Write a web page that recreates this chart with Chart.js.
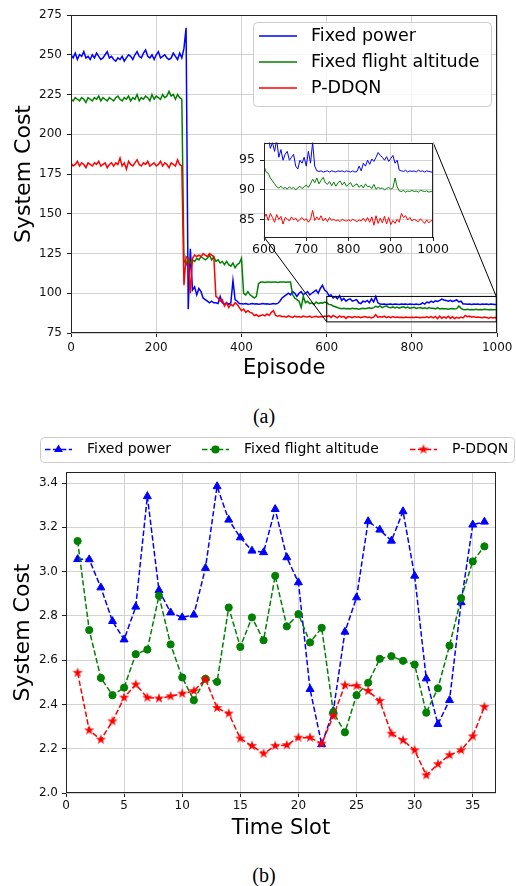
<!DOCTYPE html>
<html>
<head>
<meta charset="utf-8">
<script src="https://cdn.jsdelivr.net/npm/chart.js@4.4.0/dist/chart.umd.min.js"></script>
<style>
  body { margin: 0; background: #fff; width: 516px; height: 886px; position: relative; overflow: hidden; }
  .wrap { position: absolute; }
  #wrapA { left: 0; top: 0; width: 516px; height: 390px; }
  #wrapInset { left: 230px; top: 130px; width: 220px; height: 135px; }
  #wrapB { left: 0; top: 430px; width: 516px; height: 430px; }
  .cap { position: absolute; width: 100px; text-align: center; font-family: "Liberation Serif", serif; font-size: 20px; line-height: 22px; color: #000; }
</style>
</head>
<body>
<div class="wrap" id="wrapA"><canvas id="mainA" width="516" height="390"></canvas></div>
<div class="wrap" id="wrapInset"><canvas id="inset" width="220" height="135"></canvas></div>
<div class="cap" style="left:214px;top:405px">(a)</div>
<div class="wrap" id="wrapB"><canvas id="mainB" width="516" height="430"></canvas></div>
<div class="cap" style="left:214px;top:864px">(b)</div>

<script>
// ---- data: (a) convergence, sampled every 5 episodes (0..1000) ----
const episodes = Array.from({ length: 201 }, (_, i) => i * 5);
const seriesNames = ['Fixed power', 'Fixed flight altitude', 'P-DDQN'];

const fixedPowerA = [
  250, 248, 251, 247, 250, 249, 252, 248, 249, 247, 250, 248, 251, 249, 247, 248, 250, 252, 248, 249,
  247, 246, 248, 247, 249, 246, 248, 250, 249, 247, 250, 252, 249, 248, 251, 253, 249, 248, 250, 247,
  250, 252, 248, 249, 250, 248, 247, 248, 251, 249, 247, 251, 248, 254, 267, 90, 128, 102, 104, 99,
  103, 101, 97, 96, 95, 94, 95, 94, 94, 93.5, 98, 94, 93, 94, 93, 94, 108, 96, 95, 93.5,
  93.4, 93.2, 93.5, 93.1, 93.3, 93.6, 93.2, 93.4, 93.1, 93.3, 93.5, 93.2, 93.4, 93.1, 93.3, 93.5, 93.2, 93.6, 95, 97,
  98, 99, 100, 99, 101, 100, 98, 100, 101, 99, 100, 101, 99, 100, 101, 102, 100, 103, 105, 102,
  101, 98.5, 99, 97, 98, 96.5, 98.5, 95.5, 96.8, 95, 96, 96.5, 95, 95.5, 96, 94, 93.5, 95, 94.5, 95.5,
  94, 96.5, 94.5, 98, 94, 93.2, 93.1, 93.2, 93, 93.1, 93.2, 93, 93.2, 93.1, 93, 93.2, 93.1, 93.2, 93, 93.2,
  93.1, 93, 93.2, 93, 93.1, 94, 93.2, 94.5, 94, 95, 94.3, 95.2, 94.8, 95.5, 96.3, 95.8, 95.5, 95, 95.6, 94.8,
  95.3, 95.8, 94.5, 95, 93.3, 93.2, 93.1, 93.3, 93, 93.2, 93.1, 93.2, 93, 93.3, 93.1, 93.2, 93, 93.2, 93.1, 93,
  93
];
const fixedAltA = [
  222, 221, 223, 222, 221, 223, 222, 220, 223, 222, 221, 223, 222, 224, 221, 223, 222, 221, 223, 222,
  221, 223, 224, 222, 221, 223, 222, 224, 221, 223, 222, 225, 221, 223, 222, 224, 223, 221, 225, 222,
  224, 223, 222, 225, 223, 224, 227, 224, 225, 222, 225, 223, 222, 121, 118, 122, 119, 121, 120, 122,
  121, 123, 122, 121, 122, 124, 121, 123, 120, 121, 119, 120, 118, 120, 118, 117, 119, 116, 118, 119,
  122, 100, 99, 101, 99, 98, 97, 98, 106, 107, 107, 106.8, 107, 107, 106.9, 107, 107, 106.8, 107, 107,
  107, 106.9, 107, 107, 99, 97, 96, 95, 91, 98, 94, 95, 93.5, 94, 93, 94.5, 93.5, 94, 93.8, 94.5,
  94, 93, 92.8, 92, 91.5, 91, 90.5, 90.3, 90.6, 90.2, 90.4, 90.1, 90.5, 90.2, 90.4, 90, 90.3, 90.6, 90.2, 90.5,
  90.8, 90.4, 91, 91.8, 91.2, 92, 91, 91.6, 92.1, 91.2, 90.9, 91.4, 90.7, 91.3, 90.6, 91.2, 91.5, 90.8, 91.3, 90.6,
  90.9, 91.2, 90.5, 90.8, 91, 90.4, 90.8, 90.3, 91, 90.5, 90.6, 90.2, 90.9, 90.1, 90.4, 90.2, 90.3, 90, 90.2, 90.4,
  90.1, 90.3, 92, 90.5, 89.8, 89.7, 89.9, 89.6, 89.8, 89.7, 89.9, 89.7, 89.8, 89.6, 89.9, 89.8, 89.7, 89.8, 89.6, 89.7,
  89.8
];
const pddqnA = [
  182, 180, 181, 183, 180, 182, 181, 179, 182, 181, 180, 182, 181, 183, 180, 181, 182, 179, 181, 182,
  180, 182, 181, 185, 180, 182, 178, 183, 181, 180, 182, 184, 181, 180, 182, 181, 183, 180, 181, 182,
  180, 181, 183, 180, 182, 181, 179, 182, 181, 180, 184, 181, 180, 105, 123, 122, 100, 122, 124, 123,
  124, 123, 125, 124, 123, 125, 124, 123, 98, 97, 95, 96, 92, 94, 91, 93, 92, 94, 93, 91,
  89, 90, 88, 89, 88, 87.5, 86, 86.5, 85.5, 86, 86.5, 85.8, 87, 86, 88, 89, 86, 85.5, 86, 85.3,
  85.5, 85, 85.8, 85.2, 84.8, 85.6, 85.1, 85.4, 84.9, 85.7, 85.2, 85, 85.6, 84.8, 85.3, 85.5, 84.9, 85.4, 85.1, 85.6,
  85.2, 85.9, 84.8, 86, 85.3, 84.5, 85.8, 85, 85.5, 84.2, 85.3, 85.1, 84.7, 85.4, 84.9, 85.2, 84.6, 85, 85.3, 84.8,
  85.1, 84.5, 85, 86.5, 84.8, 85.4, 84.9, 85.6, 84.7, 85.2, 84.6, 85.3, 84.8, 85, 84.7, 84.9, 84.6, 85, 84.8, 84.7,
  84.9, 84.7, 85, 84.8, 84.6, 84.9, 84.7, 85.2, 84.6, 85.3, 84.5, 85.4, 84, 85.6, 84.3, 85.2, 84.4, 85.5, 84.2, 85.3,
  84.1, 84.8, 84.3, 85, 84.5, 86, 85.3, 85.6, 84.9, 85.3, 84.7, 85, 84.8, 84.6, 85.1, 84.7, 84.3, 84.9, 84.4, 84.8,
  84.6
];
const mainXTicks = [0, 200, 400, 600, 800, 1000];
const mainYTicks = [75, 100, 125, 150, 175, 200, 225, 250, 275];
const insetXTicks = [600, 700, 800, 900, 1000];
const insetYTicks = [85, 90, 95];

// ---- data: (b) per time slot ----
const timeSlots = [1, 2, 3, 4, 5, 6, 7, 8, 9, 10, 11, 12, 13, 14, 15, 16, 17, 18,
  19, 20, 21, 22, 23, 24, 25, 26, 27, 28, 29, 30, 31, 32, 33, 34, 35, 36];
const fixedPowerB = [3.056, 3.055, 2.928, 2.776, 2.693, 2.841, 3.34, 2.916, 2.815, 2.793, 2.805, 3.016,
  3.385, 3.234, 3.154, 3.094, 3.087, 3.282, 3.064, 2.951, 2.469, 2.22, 2.37, 2.728,
  2.883, 3.227, 3.189, 3.139, 3.272, 2.981, 2.517, 2.311, 2.419, 2.861, 3.212, 3.225];
const fixedAltB = [3.138, 2.736, 2.52, 2.442, 2.476, 2.627, 2.648, 2.891, 2.671, 2.522, 2.419, 2.516,
  2.502, 2.838, 2.66, 2.793, 2.69, 2.981, 2.753, 2.808, 2.68, 2.746, 2.365, 2.274,
  2.442, 2.498, 2.606, 2.618, 2.597, 2.58, 2.363, 2.473, 2.666, 2.88, 3.046, 3.114];
const pddqnB = [2.543, 2.283, 2.241, 2.324, 2.431, 2.49, 2.431, 2.427, 2.437, 2.449, 2.461, 2.514,
  2.384, 2.359, 2.246, 2.213, 2.178, 2.213, 2.216, 2.25, 2.25, 2.223, 2.347, 2.487,
  2.484, 2.461, 2.416, 2.268, 2.238, 2.193, 2.08, 2.13, 2.171, 2.193, 2.256, 2.389];
const slotXTicks = [0, 5, 10, 15, 20, 25, 30, 35];
const costYTicks = [2.0, 2.2, 2.4, 2.6, 2.8, 3.0, 3.2, 3.4];

const COLORS = ['#0000ff', '#008000', '#ff0000'];
const GRID = '#c8c8c8';
const INK = '#222222';

Chart.defaults.font.family = "'DejaVu Sans', sans-serif";
Chart.defaults.color = '#000';

// filled five-point star, like matplotlib's '*'
function makeStar(color) {
  const c = document.createElement('canvas');
  c.width = 12; c.height = 12;
  const g = c.getContext('2d');
  g.fillStyle = color;
  g.beginPath();
  for (let k = 0; k < 10; k++) {
    const r = k % 2 ? 2.1 : 5.4;
    const a = -Math.PI / 2 + k * Math.PI / 5;
    g.lineTo(6 + r * Math.cos(a), 6 + r * Math.sin(a));
  }
  g.closePath();
  g.fill();
  return c;
}
const starRed = makeStar(COLORS[2]);

function roundedRect(ctx, x, y, w, h, r) {
  ctx.beginPath();
  ctx.moveTo(x + r, y);
  ctx.arcTo(x + w, y, x + w, y + h, r);
  ctx.arcTo(x + w, y + h, x, y + h, r);
  ctx.arcTo(x, y + h, x, y, r);
  ctx.arcTo(x, y, x + w, y, r);
  ctx.closePath();
}

function drawMarker(ctx, ds, x, y) {
  const st = ds.pointStyle;
  const r = ds.pointRadius;
  ctx.fillStyle = ds.pointBackgroundColor;
  if (st === 'triangle') {
    ctx.beginPath();
    for (let k = 0; k < 3; k++) {
      const a = k * 2 * Math.PI / 3;
      ctx.lineTo(x + Math.sin(a) * (r + 0.5), y - Math.cos(a) * (r + 0.5));
    }
    ctx.closePath(); ctx.fill();
  } else if (st === 'circle') {
    ctx.beginPath(); ctx.arc(x, y, r + 0.5, 0, Math.PI * 2); ctx.fill();
  } else if (st && st.width) {
    ctx.drawImage(st, x - st.width / 2, y - st.height / 2);
  }
}

const frame = {
  id: 'frame',
  afterDatasetsDraw(chart) {
    const a = chart.chartArea, ctx = chart.ctx;
    ctx.save();
    ctx.strokeStyle = INK; ctx.lineWidth = 1;
    ctx.strokeRect(Math.round(a.left) + 0.5, Math.round(a.top) + 0.5,
      Math.round(a.right - a.left) - 1, Math.round(a.bottom - a.top) - 1);
    ctx.restore();
  }
};

const whiteArea = {
  id: 'whiteArea',
  beforeDraw(chart) {
    const a = chart.chartArea, ctx = chart.ctx;
    ctx.save(); ctx.fillStyle = '#fff';
    ctx.fillRect(a.left, a.top, a.right - a.left, a.bottom - a.top);
    ctx.restore();
  }
};

const boxLegend = {
  id: 'boxLegend',
  afterDraw(chart, _args, o) {
    const ctx = chart.ctx;
    ctx.save();
    roundedRect(ctx, o.x + 0.5, o.y + 0.5, o.w, o.h, 4);
    ctx.fillStyle = 'rgba(255,255,255,0.8)'; ctx.fill();
    ctx.strokeStyle = '#cccccc'; ctx.lineWidth = 1; ctx.stroke();
    ctx.font = o.size + "px 'DejaVu Sans'";
    ctx.textBaseline = 'middle';
    chart.data.datasets.forEach((ds, i) => {
      const s = o.slots[i];
      const x1 = s.x + o.handle;
      ctx.strokeStyle = ds.borderColor;
      ctx.lineWidth = o.lineWidth;
      ctx.setLineDash(ds.borderDash || []);
      ctx.beginPath(); ctx.moveTo(s.x, s.y); ctx.lineTo(x1, s.y); ctx.stroke();
      ctx.setLineDash([]);
      if (o.markers) drawMarker(ctx, ds, (s.x + x1) / 2, s.y);
      ctx.fillStyle = '#000';
      ctx.fillText(ds.label, x1 + o.gap, s.y);
    });
    ctx.restore();
  }
};

function axisOpts(tickVals, o) {
  return {
    type: 'linear',
    min: o.min, max: o.max,
    afterBuildTicks: s => { s.ticks = tickVals.map(v => ({ value: v })); },
    afterFit: s => {
      if (o.width != null) s.width = o.width;
      if (o.height != null) s.height = o.height;
    },
    grid: { color: GRID, lineWidth: 0.8, tickColor: INK, tickLength: 4, tickWidth: 1 },
    border: { display: false },
    ticks: {
      color: '#111', font: { size: o.tickSize || 12 }, padding: o.pad,
      maxRotation: 0, autoSkip: false, callback: o.fmt || (v => v)
    },
    title: o.title
      ? { display: true, text: o.title, color: '#000', font: { size: o.titleSize }, padding: o.titlePad }
      : { display: false }
  };
}

const common = {
  responsive: false,
  animation: false,
  events: [],
  plugins: { legend: { display: false }, tooltip: { enabled: false } }
};

const pairUp = (xs, ys) => ys.map((y, i) => ({ x: xs[i], y }));

function curveSets(width) {
  return [fixedPowerA, fixedAltA, pddqnA].map((ys, i) => ({
    label: seriesNames[i],
    data: pairUp(episodes, ys),
    borderColor: COLORS[i],
    borderWidth: width,
    pointRadius: 0,
    fill: false,
    tension: 0,
    order: 3 - i
  }));
}

// ---- (a) inset first, so the main chart can join its corners ----
const insetChart = new Chart(document.getElementById('inset'), {
  type: 'line',
  data: { datasets: curveSets(1) },
  options: Object.assign({}, common, {
    layout: { padding: { left: 0, right: 14, top: 11, bottom: 0 } },
    scales: {
      x: axisOpts(insetXTicks, { min: 600, max: 1000, height: 28, pad: 1, tickSize: 12.5 }),
      y: axisOpts(insetYTicks, { min: 82, max: 98, width: 34, pad: 5, tickSize: 12.5 })
    }
  }),
  plugins: [whiteArea, frame]
});

const zoomMark = {
  id: 'zoomMark',
  afterDatasetsDraw(chart) {
    const { x, y } = chart.scales;
    const ix = insetChart.scales.x, iy = insetChart.scales.y;
    const l = x.getPixelForValue(ix.min), r = x.getPixelForValue(ix.max);
    const t = y.getPixelForValue(iy.max), b = y.getPixelForValue(iy.min);
    const wrapI = document.getElementById('wrapInset');
    const wrapM = document.getElementById('wrapA');
    const ox = wrapI.offsetLeft - wrapM.offsetLeft, oy = wrapI.offsetTop - wrapM.offsetTop;
    const ia = insetChart.chartArea;
    const ctx = chart.ctx;
    ctx.save();
    ctx.strokeStyle = '#000'; ctx.lineWidth = 1;
    ctx.strokeRect(l, t, r - l - 1, b - t);
    ctx.beginPath();
    ctx.moveTo(ox + ia.left, oy + ia.bottom); ctx.lineTo(l, b);
    ctx.moveTo(ox + ia.right, oy + ia.top); ctx.lineTo(r - 1, t);
    ctx.stroke();
    ctx.restore();
  }
};

new Chart(document.getElementById('mainA'), {
  type: 'line',
  data: { datasets: curveSets(1.5) },
  options: Object.assign({}, common, {
    layout: { padding: { left: 0, right: 17, top: 15, bottom: 0 } },
    scales: {
      x: axisOpts(mainXTicks, { min: 0, max: 1000, height: 57, pad: 3.5,
        title: 'Episode', titleSize: 21, titlePad: { top: 0, bottom: 8.5 } }),
      y: axisOpts(mainYTicks, { min: 75, max: 275, width: 71, pad: 5,
        title: 'System Cost', titleSize: 22, titlePad: { top: 11, bottom: 0 } })
    },
    plugins: Object.assign({}, common.plugins, {
      boxLegend: { x: 253, y: 22, w: 238, h: 84, size: 17.5, handle: 38, gap: 14, lineWidth: 1.5,
        markers: false, slots: [{ x: 259, y: 36 }, { x: 259, y: 62 }, { x: 259, y: 88 }] }
    })
  }),
  plugins: [frame, zoomMark, boxLegend]
});

// ---- (b) ----
const styleB = [
  { style: 'triangle', radius: 4.6 },
  { style: 'circle', radius: 3.6 },
  { style: starRed, radius: 4 }
];
new Chart(document.getElementById('mainB'), {
  type: 'line',
  data: {
    datasets: [fixedPowerB, fixedAltB, pddqnB].map((ys, i) => ({
      label: seriesNames[i],
      data: pairUp(timeSlots, ys),
      borderColor: COLORS[i],
      borderWidth: 1.5,
      borderDash: [5.5, 2.4],
      pointStyle: styleB[i].style,
      pointRadius: styleB[i].radius,
      pointBackgroundColor: COLORS[i],
      pointBorderColor: COLORS[i],
      pointBorderWidth: 1,
      fill: false,
      tension: 0,
      order: 3 - i
    }))
  },
  options: Object.assign({}, common, {
    layout: { padding: { left: 0, right: 20, top: 42, bottom: 0 } },
    scales: {
      x: axisOpts(slotXTicks, { min: 0, max: 37, height: 67, pad: 1.5,
        title: 'Time Slot', titleSize: 21, titlePad: { top: 0, bottom: 18.7 } }),
      y: axisOpts(costYTicks, { min: 2.0, max: 3.45, width: 66, pad: 4, fmt: v => v.toFixed(1),
        title: 'System Cost', titleSize: 22, titlePad: { top: 10, bottom: 0 } })
    },
    plugins: Object.assign({}, common.plugins, {
      boxLegend: { x: 40, y: 7, w: 474, h: 25, size: 14, handle: 27, gap: 15, lineWidth: 1.5,
        markers: true, slots: [{ x: 45, y: 19.5 }, { x: 202, y: 19.5 }, { x: 410, y: 19.5 }] }
    })
  }),
  plugins: [frame, boxLegend]
});
</script>
</body>
</html>
